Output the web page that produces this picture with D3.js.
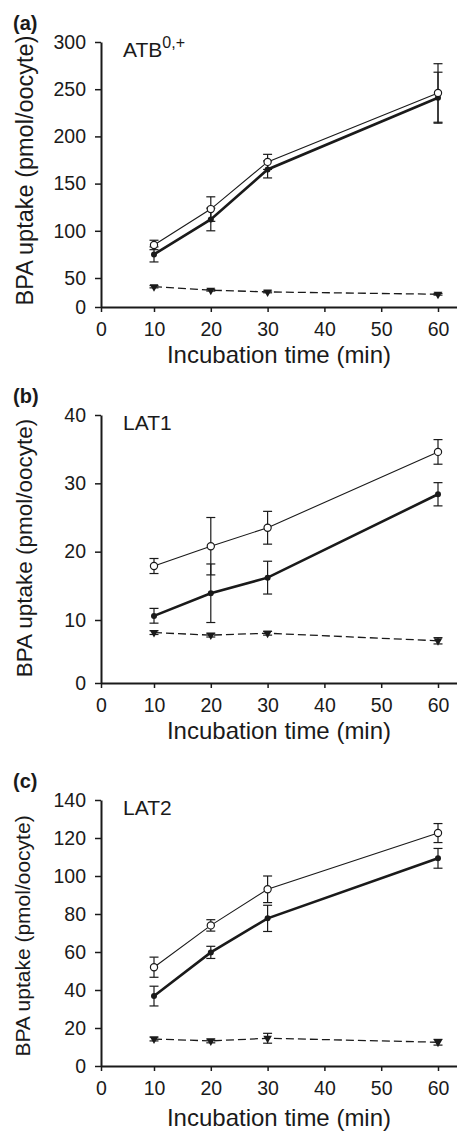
<!DOCTYPE html>
<html lang="en">
<head>
  <meta charset="UTF-8">
  <title>BPA uptake</title>
  <script src="https://d3js.org/d3.v7.min.js"></script>
  <style>
    body { margin: 0; background: #fff; }
    svg { display: block; font-family: "Liberation Sans", Arial, sans-serif; }
    .axis path, .axis line { stroke: #1a1a1a; }
    .axis path { stroke-width: 2; }
    .axis line { stroke-width: 1.5; }
    .axis text { font-size: 19.5px; fill: #1a1a1a; }
  </style>
</head>
<body>
  <svg id="chart" width="457" height="1136"></svg>

  <script>
    // Incubation times (min)
    const times = [10, 20, 30, 60];
    const xTicks = [0, 10, 20, 30, 40, 50, 60];

    // (a) ATB0,+
    const atbTicks = [0, 50, 100, 150, 200, 250, 300];
    const atbOpen = [85, 123, 173, 246];
    const atbOpenErr = [5, 13, 8, 31];
    const atbFilled = [75, 112, 165, 241];
    const atbFilledErr = [8, 12, 9, 27];
    const atbControl = [35, 29, 26, 22];
    const atbControlErr = [2, 1.5, 1.5, 1.5];

    // (b) LAT1
    const lat1Ticks = [0, 10, 20, 30, 40];
    const lat1Open = [17.9, 20.8, 23.5, 34.6];
    const lat1OpenErr = [1.1, 4.2, 2.4, 1.8];
    const lat1Filled = [10.6, 13.9, 16.2, 28.4];
    const lat1FilledErr = [1.1, 4.3, 2.4, 1.7];
    const lat1Control = [8.0, 7.6, 7.9, 6.7];
    const lat1ControlErr = [0.3, 0.3, 0.3, 0.5];

    // (c) LAT2
    const lat2Ticks = [0, 20, 40, 60, 80, 100, 120, 140];
    const lat2Open = [52, 74, 93, 122.6];
    const lat2OpenErr = [5.3, 3, 7, 5];
    const lat2Filled = [36.8, 59.8, 77.7, 109.3];
    const lat2FilledErr = [5.2, 3.2, 6.9, 5.2];
    const lat2Control = [14.2, 13.2, 14.6, 12.5];
    const lat2ControlErr = [1, 1, 2.6, 1.5];

    const panels = [
      { letter: "(a)", name: "ATB", sup: "0,+", ticks: atbTicks,
        open: atbOpen, openErr: atbOpenErr, filled: atbFilled, filledErr: atbFilledErr,
        control: atbControl, controlErr: atbControlErr,
        yDomain: [0, 50, 300], yRange: [307, 278, 42],
        yTitleSize: 23.5, yTitleShift: -4, xTitleGap: 56 },
      { letter: "(b)", name: "LAT1", ticks: lat1Ticks,
        open: lat1Open, openErr: lat1OpenErr, filled: lat1Filled, filledErr: lat1FilledErr,
        control: lat1Control, controlErr: lat1ControlErr,
        yDomain: [0, 10, 40], yRange: [683, 620, 415],
        yTitleSize: 22.5, yTitleShift: -1, xTitleGap: 56 },
      { letter: "(c)", name: "LAT2", ticks: lat2Ticks,
        open: lat2Open, openErr: lat2OpenErr, filled: lat2Filled, filledErr: lat2FilledErr,
        control: lat2Control, controlErr: lat2ControlErr,
        yDomain: [0, 140], yRange: [1066, 800],
        yTitleSize: 21, yTitleShift: 3, xTitleGap: 60 }
    ];

    const ink = "#1a1a1a";
    const svg = d3.select("#chart");

    const x = d3.scaleLinear()
      .domain([0, 10, 60, 63.4])
      .range([101, 154, 438, 457]);

    panels.forEach(p => drawPanel(p));

    function drawPanel(p) {
      const y = d3.scaleLinear().domain(p.yDomain).range(p.yRange);
      const yTop = p.yRange[p.yRange.length - 1];
      const yBottom = p.yRange[0];
      const g = svg.append("g");

      g.append("g")
        .attr("class", "axis")
        .attr("transform", `translate(0,${yBottom})`)
        .call(d3.axisBottom(x).tickValues(xTicks).tickSize(5).tickSizeOuter(0).tickPadding(10));

      g.append("g")
        .attr("class", "axis")
        .attr("transform", `translate(${x(0)},0)`)
        .call(d3.axisLeft(y).tickValues(p.ticks).tickSize(6).tickSizeOuter(0).tickPadding(9));

      g.selectAll(".axis .domain").attr("fill", "none");

      // axis titles
      g.append("text")
        .attr("x", (x.range()[0] + x.range()[3]) / 2)
        .attr("y", yBottom + p.xTitleGap)
        .attr("text-anchor", "middle")
        .attr("font-size", 24)
        .attr("fill", ink)
        .text("Incubation time (min)");

      g.append("text")
        .attr("transform", `translate(${9 + p.yTitleSize},${(yTop + yBottom) / 2 + p.yTitleShift}) rotate(-90)`)
        .attr("text-anchor", "middle")
        .attr("font-size", p.yTitleSize)
        .attr("fill", ink)
        .text("BPA uptake (pmol/oocyte)");

      g.append("text")
        .attr("x", 13)
        .attr("y", yTop - 12)
        .attr("font-size", 20)
        .attr("font-weight", "bold")
        .attr("fill", ink)
        .text(p.letter);

      const lbl = g.append("text")
        .attr("x", 123)
        .attr("y", yTop + 15)
        .attr("font-size", 21)
        .attr("fill", ink)
        .text(p.name);
      if (p.sup) {
        lbl.append("tspan").attr("dy", -9).attr("font-size", 16).text(p.sup);
      }

      const line = d3.line().x(d => x(d.t)).y(d => y(d.v));
      const rows = (vals, errs) => times.map((t, i) => ({ t, v: vals[i], e: errs[i] }));

      const series = [
        { data: rows(p.control, p.controlErr), width: 1.3, dash: "8,4", marker: "tri" },
        { data: rows(p.filled, p.filledErr), width: 2.6, dash: null, marker: "dot" },
        { data: rows(p.open, p.openErr), width: 1.1, dash: null, marker: "ring" }
      ];

      series.forEach(s => {
        // error bars
        const eb = g.append("g").attr("stroke", ink).attr("stroke-width", 1.2);
        s.data.forEach(d => {
          const x0 = x(d.t), y1 = y(d.v + d.e), y2 = y(d.v - d.e);
          eb.append("line").attr("x1", x0).attr("x2", x0).attr("y1", y1).attr("y2", y2);
          eb.append("line").attr("x1", x0 - 4.5).attr("x2", x0 + 4.5).attr("y1", y1).attr("y2", y1);
          eb.append("line").attr("x1", x0 - 4.5).attr("x2", x0 + 4.5).attr("y1", y2).attr("y2", y2);
        });

        g.append("path")
          .datum(s.data)
          .attr("d", line)
          .attr("fill", "none")
          .attr("stroke", ink)
          .attr("stroke-width", s.width)
          .attr("stroke-dasharray", s.dash);

        const m = g.append("g");
        if (s.marker === "ring") {
          m.selectAll("circle").data(s.data).join("circle")
            .attr("cx", d => x(d.t)).attr("cy", d => y(d.v)).attr("r", 3.6)
            .attr("fill", "#fff").attr("stroke", ink).attr("stroke-width", 1.2);
        } else if (s.marker === "dot") {
          m.selectAll("circle").data(s.data).join("circle")
            .attr("cx", d => x(d.t)).attr("cy", d => y(d.v)).attr("r", 3)
            .attr("fill", ink);
        } else {
          const tri = d3.symbol().type(d3.symbolTriangle).size(32);
          m.selectAll("path").data(s.data).join("path")
            .attr("d", tri)
            .attr("transform", d => `translate(${x(d.t)},${y(d.v)}) rotate(180)`)
            .attr("fill", ink);
        }
      });
    }
  </script>
</body>
</html>
